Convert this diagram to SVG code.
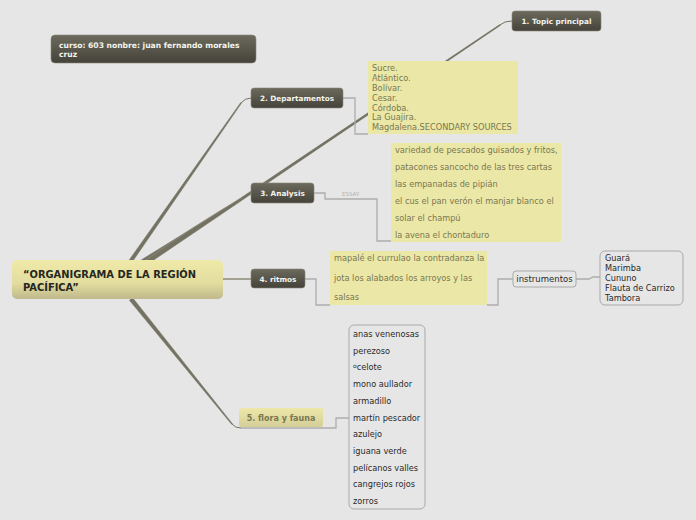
<svg xmlns="http://www.w3.org/2000/svg" width="696" height="520" viewBox="0 0 696 520">
<defs>
<linearGradient id="dark" x1="0" y1="0" x2="0" y2="1">
<stop offset="0" stop-color="#6c6a5c"/><stop offset="1" stop-color="#45433a"/>
</linearGradient>
<linearGradient id="yel" x1="0" y1="0" x2="0" y2="1">
<stop offset="0" stop-color="#efeaaa"/><stop offset="0.6" stop-color="#e2dc9e"/><stop offset="1" stop-color="#bfb98c"/>
</linearGradient>
<linearGradient id="yel2" x1="0" y1="0" x2="0" y2="1">
<stop offset="0" stop-color="#ede8a8"/><stop offset="1" stop-color="#d4ce98"/>
</linearGradient>
</defs>
<style>
.dk{fill:url(#dark);stroke:#8a887a;stroke-width:0.6}
.dt{font-family:"DejaVu Sans",sans-serif;font-size:7.3px;font-weight:bold;fill:#f4f4ee}
.note{fill:#ebe7a6}
.nt{font-family:"DejaVu Sans",sans-serif;font-size:8.2px;fill:#7a7752}
.wb{fill:none;stroke:#a9a9a9;stroke-width:1}
.wt{font-family:"DejaVu Sans",sans-serif;font-size:8.2px;fill:#2a2a2a}
.thin{fill:none;stroke:#adadad;stroke-width:1.3}
.taper{fill:#747262;stroke:#747262;stroke-width:0.5;stroke-linejoin:round}
.end{fill:none;stroke:#747262;stroke-width:1}
</style>
<rect width="696" height="520" fill="#e6e6e6"/>
<g id="connectors">
<polygon class="taper" points="148.9,263.3 500.3,25.4 499.7,24.6 147.1,260.7"/>
<path class="end" d="M500 25 Q504 21 512 21"/>
<polygon class="taper" points="131.5,263 241.4,103.3 240.6,102.7 128.5,261"/>
<path class="end" d="M241 103 Q245 98 251 98"/>
<polygon class="taper" points="143.2,263.8 244.3,197.5 243.7,196.5 140.8,260.2"/>
<path d="M146 260 Q195 225 243 197" fill="none" stroke="#8e8c7c" stroke-width="0.8"/>
<path class="end" d="M244 197 Q247 193 251 193"/>
<polygon class="taper" points="132.6,297.7 232.4,423.7 231.6,424.3 129.4,300.3"/>
<path class="end" d="M232 424 Q235 428 241 428"/>
<path d="M223 279 L251 279" fill="none" stroke="#a3a192" stroke-width="2"/>
<path class="thin" d="M343 98 H355 V134 H368"/>
<path class="thin" d="M314 193 H325 V199 H377 V241 H395"/>
<text x="342" y="196" font-family="DejaVu Sans,sans-serif" font-size="5.5" fill="#b0b0a8">ESSAY</text>
<path class="thin" d="M305 279 H316 V305 H330"/>
<path class="thin" d="M487 305 H498 V279 H513"/>
<path class="thin" d="M576 279 H589 L593 277 H600"/>
<path class="thin" d="M240 428 H336 V418 H349"/>
</g>
<g id="info">
<rect class="dk" x="51" y="35" width="205" height="28" rx="4"/>
<text class="dt" x="59" y="48" style="font-size:7.6px">curso: 603 nonbre: juan fernando morales</text>
<text class="dt" x="59" y="57" style="font-size:7.6px">cruz</text>
</g>
<g id="topic1">
<rect class="dk" x="512" y="11" width="89" height="20" rx="3"/>
<text class="dt" x="556.5" y="24" text-anchor="middle">1. Topic principal</text>
</g>
<g id="departamentos">
<rect class="dk" x="251" y="88" width="92" height="20" rx="3"/>
<text class="dt" x="297" y="101" text-anchor="middle">2. Departamentos</text>
</g>
<g id="departamentos-note">
<rect class="note" x="368" y="61" width="150" height="73"/>
<text class="nt" x="372" y="71">Sucre.</text>
<text class="nt" x="372" y="81">Atlántico.</text>
<text class="nt" x="372" y="91">Bolívar.</text>
<text class="nt" x="372" y="101">Cesar.</text>
<text class="nt" x="372" y="111">Córdoba.</text>
<text class="nt" x="372" y="120">La Guajira.</text>
<text class="nt" x="372" y="130">Magdalena.SECONDARY SOURCES</text>
</g>
<g id="analysis">
<rect class="dk" x="251" y="183" width="63" height="20" rx="3"/>
<text class="dt" x="282.5" y="196" text-anchor="middle">3. Analysis</text>
</g>
<g id="analysis-note">
<rect class="note" x="391" y="143" width="170" height="99"/>
<text class="nt" x="395" y="153">variedad de pescados guisados y fritos,</text>
<text class="nt" x="395" y="170">patacones sancocho de las tres cartas</text>
<text class="nt" x="395" y="187">las empanadas de pipián</text>
<text class="nt" x="395" y="204">el cus el pan verón el manjar blanco el</text>
<text class="nt" x="395" y="221">solar el champú</text>
<text class="nt" x="395" y="238">la avena el chontaduro</text>
</g>
<g id="central">
<rect x="12" y="260" width="211" height="39" rx="5" fill="url(#yel)"/>
<text x="23" y="278" font-family="DejaVu Sans,sans-serif" font-size="9.9" font-weight="bold" fill="#262620">“ORGANIGRAMA DE LA REGIÓN</text>
<text x="23" y="291" font-family="DejaVu Sans,sans-serif" font-size="9.9" font-weight="bold" fill="#262620">PACÍFICA”</text>
</g>
<g id="ritmos">
<rect class="dk" x="251" y="269" width="54" height="19" rx="3"/>
<text class="dt" x="278" y="282" text-anchor="middle">4. ritmos</text>
</g>
<g id="ritmos-note">
<rect class="note" x="330" y="251" width="157" height="54"/>
<text class="nt" x="334" y="261">mapalé el currulao la contradanza la</text>
<text class="nt" x="334" y="281">jota los alabados los arroyos y las</text>
<text class="nt" x="334" y="300">salsas</text>
</g>
<g id="instrumentos">
<rect class="wb" x="513" y="271" width="63" height="16" rx="3"/>
<text class="wt" x="544.5" y="282" text-anchor="middle" style="font-size:8.5px">instrumentos</text>
</g>
<g id="instrumentos-list">
<rect class="wb" x="600" y="251" width="83" height="54" rx="5"/>
<text class="wt" x="605" y="261">Guará</text>
<text class="wt" x="605" y="271">Marimba</text>
<text class="wt" x="605" y="281">Cununo</text>
<text class="wt" x="605" y="291">Flauta de Carrizo</text>
<text class="wt" x="605" y="301">Tambora</text>
</g>
<g id="flora">
<rect x="239" y="408" width="84" height="19" rx="2" fill="url(#yel2)"/>
<text x="281" y="421" text-anchor="middle" font-family="DejaVu Sans,sans-serif" font-size="8" font-weight="bold" fill="#7a7752">5. flora y fauna</text>
</g>
<g id="fauna-list">
<rect class="wb" x="349" y="325" width="76" height="184" rx="5"/>
<text class="wt" x="353" y="337">anas venenosas</text>
<text class="wt" x="353" y="354">perezoso</text>
<text class="wt" x="353" y="370"><tspan font-size="6" dy="-2">o</tspan><tspan dy="2">celote</tspan></text>
<text class="wt" x="353" y="387">mono aullador</text>
<text class="wt" x="353" y="404">armadillo</text>
<text class="wt" x="353" y="421">martín pescador</text>
<text class="wt" x="353" y="437">azulejo</text>
<text class="wt" x="353" y="454">iguana verde</text>
<text class="wt" x="353" y="471">pelícanos valles</text>
<text class="wt" x="353" y="487">cangrejos rojos</text>
<text class="wt" x="353" y="504">zorros</text>
</g>
</svg>
